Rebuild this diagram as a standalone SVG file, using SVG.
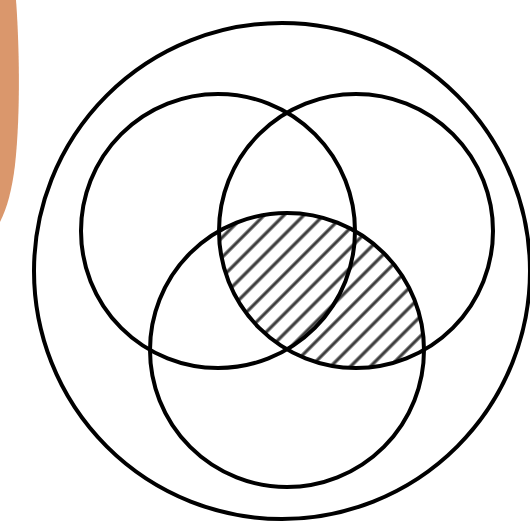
<svg xmlns="http://www.w3.org/2000/svg" width="530" height="523" viewBox="0 0 530 523">
<defs>
<pattern id="hatch" patternUnits="userSpaceOnUse" width="14" height="14" patternTransform="rotate(45)">
<line x1="3" y1="0" x2="3" y2="14" stroke="#3c3c3c" stroke-width="3.2"/>
</pattern>
<clipPath id="clipRight"><circle cx="356" cy="231" r="137"/></clipPath>
</defs>
<style>
.c{fill:none;stroke:#000;stroke-width:4}
</style>
<rect width="530" height="523" fill="#fff"/>
<path id="orange" d="M0,0 L16,0 C19,40 21,110 15,165 C12,190 7,208 0,222 Z" fill="#DA976C"/>
<g id="hatched-region" clip-path="url(#clipRight)">
<circle cx="287" cy="350" r="137" fill="url(#hatch)"/>
</g>
<g id="outer"><circle class="c" cx="282" cy="271" r="248"/></g>
<g id="left"><circle class="c" cx="218" cy="231" r="137"/></g>
<g id="right"><circle class="c" cx="356" cy="231" r="137"/></g>
<g id="bottom"><circle class="c" cx="287" cy="350" r="137"/></g>
<g id="connectors"></g>
</svg>
